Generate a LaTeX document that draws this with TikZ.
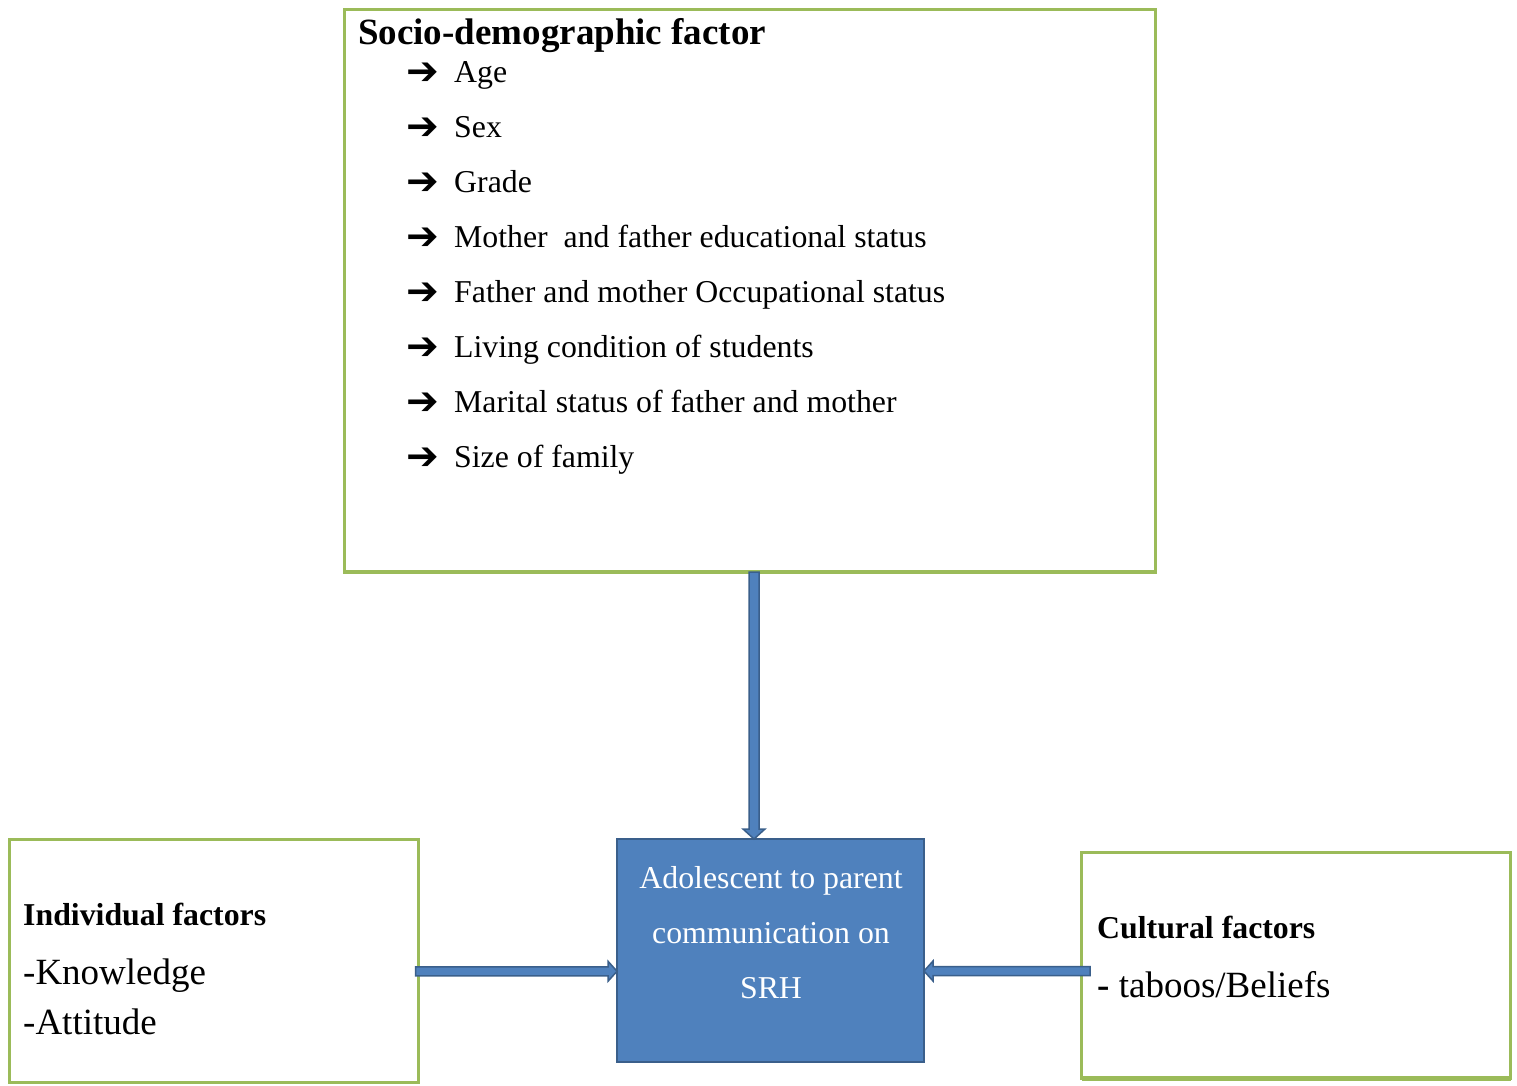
\documentclass[tikz,border=0pt]{standalone}
\usepackage{fontspec}
\setmainfont{Liberation Serif}
\newfontfamily\dejavu{DejaVu Sans}
\usetikzlibrary{calc}
\definecolor{boxgreen}{HTML}{9BBB59}
\definecolor{accblue}{HTML}{4F81BD}
\definecolor{accdark}{HTML}{3A5F8B}
\begin{document}
\begin{tikzpicture}[x=1pt,y=-1pt,
  gbox/.style={draw=boxgreen, line width=3pt, fill=white, inner sep=0pt, outer sep=0pt, anchor=north west},
  cbox/.style={draw=accdark, line width=2pt, fill=accblue, inner sep=0pt, outer sep=0pt, anchor=north west},
  blockarrow/.style={fill=accblue, draw=accdark, line width=1.5pt, line join=miter},
  txt/.style={inner sep=0pt, anchor=base west, font=\fontsize{31.8}{36}\selectfont},
  bul/.style={inner sep=0pt, anchor=base west, font=\dejavu\bfseries\fontsize{39}{40}\selectfont},
  ctxt/.style={inner sep=0pt, anchor=base, text=white, font=\fontsize{31.8}{36}\selectfont},
  head/.style={inner sep=0pt, anchor=base west, font=\bfseries\fontsize{31.8}{36}\selectfont},
  big/.style={inner sep=0pt, anchor=base west, font=\fontsize{37}{40}\selectfont}
]
\useasboundingbox (0,0) rectangle (1517,1085);

% boxes
\node[gbox, minimum width=811pt, minimum height=562.5pt] (top) at (344.5,9.5) {};
\draw[boxgreen, line width=4.5pt] (top.south west) -- (top.south east);
\node[gbox, minimum width=409pt, minimum height=242.5pt] (left) at (9.5,839.5) {};
\node[gbox, minimum width=429pt, minimum height=226pt] (right) at (1081.5,852.5) {};
\draw[boxgreen, line width=4.5pt] (right.south west) -- (right.south east);
\node[cbox, minimum width=307pt, minimum height=223pt] (mid) at (617,839) {};

% top box text
\node[inner sep=0pt, anchor=base west, font=\bfseries\fontsize{37}{40}\selectfont] (title) at (358,44) {Socio-demographic factor};
\foreach \t [count=\i from 0] in {Age, Sex, Grade, Mother\ \ and father educational status, Father and mother Occupational status, Living condition of students, Marital status of father and mother, Size of family}{
  \node[bul] (b\i) at (406,{84+55.1*\i}) {➔};
  \node[txt] (it\i) at (454,{82+55.1*\i}) {\t};
}

% center text
\node[ctxt] (c1) at (771,888) {Adolescent to parent};
\node[ctxt] (c2) at (771,943) {communication on};
\node[ctxt] (c3) at (771,998) {SRH};

% left text
\node[head] (lh) at (23,925) {Individual factors};
\node[big] (l1) at (23,984) {-Knowledge};
\node[big] (l2) at (23,1034) {-Attitude};

% right text
\node[head] (rh) at (1097,938) {Cultural factors};
\node[big] (r1) at (1097,997) {\textbf{-} taboos/Beliefs};

% vertical block arrow
\coordinate (va) at ($(top.south)+(4,0)$);
\coordinate (vt) at (va |- mid.north);
\draw[blockarrow] ($(va)+(-5,0)$) -- ($(vt)+(-5,-10)$) -- ($(vt)+(-11,-10)$) -- (vt)
  -- ($(vt)+(11,-10)$) -- ($(vt)+(5,-10)$) -- ($(va)+(5,0)$) -- cycle;

% left block arrow
\coordinate (la) at ($(left.east)+(-3,10.5)$);
\coordinate (lt) at (la -| mid.west);
\draw[blockarrow] ($(la)+(0,-4.5)$) -- ($(lt)+(-9,-4.5)$) -- ($(lt)+(-9,-10)$) -- (lt)
  -- ($(lt)+(-9,10)$) -- ($(lt)+(-9,4.5)$) -- ($(la)+(0,4.5)$) -- cycle;

% right block arrow
\coordinate (ra) at ($(right.west)+(8.5,5.5)$);
\coordinate (rt) at (ra -| mid.east);
\draw[blockarrow] ($(ra)+(0,-4.5)$) -- ($(rt)+(9,-4.5)$) -- ($(rt)+(9,-10)$) -- (rt)
  -- ($(rt)+(9,10)$) -- ($(rt)+(9,4.5)$) -- ($(ra)+(0,4.5)$) -- cycle;
\end{tikzpicture}
\end{document}
